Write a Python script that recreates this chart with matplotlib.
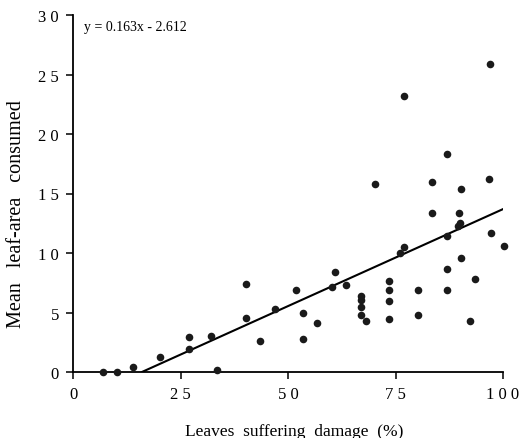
import matplotlib
matplotlib.use('Agg')
import matplotlib.pyplot as plt
import numpy as np

plt.rcParams['font.family'] = ['Liberation Serif', 'DejaVu Serif']

# leaves suffering damage (%)
damage = [6.9, 10.2, 13.9, 20.2, 26.9, 26.9, 32.1, 33.5,
          40.2, 40.2, 43.5, 46.9, 51.9, 53.4, 53.4, 56.8,
          60.9, 60.3, 63.6, 66.9, 66.9, 66.9, 66.9, 68.1,
          70.2, 73.5, 73.5, 73.5, 73.5, 76.1, 76.9, 77.0,
          80.3, 80.3, 83.6, 83.6, 87.0, 87.0, 86.9, 87.0,
          89.7, 90.0, 89.5, 90.3, 90.2, 92.3, 93.6, 96.7,
          97.1, 97.0, 100.3]
# mean leaf-area consumed
consumed = [0.0, 0.0, 0.45, 1.3, 2.9, 1.9, 3.0, 0.2,
            7.4, 4.5, 2.6, 5.27, 6.85, 5.0, 2.8, 4.14,
            8.4, 7.17, 7.28, 6.36, 6.08, 5.49, 4.79, 4.31,
            15.8, 7.62, 6.87, 5.97, 4.48, 10.0, 10.5, 23.2,
            6.92, 4.79, 16.0, 13.36, 18.3, 11.43, 8.66, 6.92,
            13.4, 12.55, 12.27, 15.35, 9.55, 4.31, 7.8, 16.2,
            11.68, 25.9, 10.6]

slope = 0.163
intercept = -2.612

x_ticks = [0, 25, 50, 75, 100]
y_ticks = [0, 5, 10, 15, 20, 25, 30]


def spaced(v):
    # tick labels in the original have spaced-out digits
    return ' '.join(str(v))


fig = plt.figure(figsize=(5.21, 4.39), dpi=100)
ax = fig.add_axes([73 / 521, 66 / 439, 430 / 521, 357 / 439])

ax.scatter(damage, consumed, s=30, color='#1a1a1a', zorder=3, clip_on=False,
           linewidths=0)

# regression line, drawn from where it crosses zero
x0 = -intercept / slope
xs = np.array([x0, 100])
ax.plot(xs, slope * xs + intercept, color='black', lw=1.5, zorder=2)

ax.set_xlim(0, 100)
ax.set_ylim(0, 30)
ax.set_xticks(x_ticks)
ax.set_xticklabels([spaced(v) for v in x_ticks])
ax.set_yticks(y_ticks)
ax.set_yticklabels([spaced(v) for v in y_ticks])

for side in ['top', 'right']:
    ax.spines[side].set_visible(False)
for side in ['left', 'bottom']:
    ax.spines[side].set_linewidth(1.3)

ax.tick_params(direction='out', length=5, width=1.1, labelsize=12, pad=5)

ax.set_xlabel('Leaves  suffering  damage  (%)', fontsize=12.5)
ax.set_ylabel('Mean   leaf-area   consumed', fontsize=14.5)
ax.xaxis.set_label_coords(0.514, -0.143)
ax.yaxis.set_label_coords(-0.11, 0.445)

ax.text(2.5, 29.0, 'y = 0.163x - 2.612', fontsize=10, va='center', ha='left')

fig.savefig('out.png', dpi=100)
